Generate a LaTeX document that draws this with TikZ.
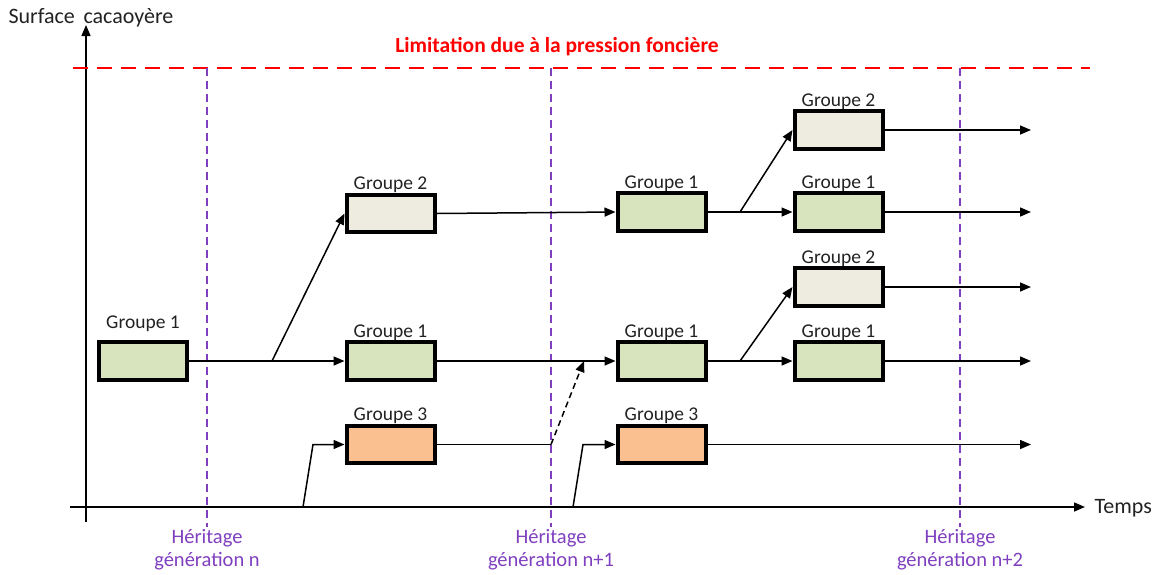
\documentclass[tikz,border=0pt]{standalone}
\usepackage{fontspec}
\setmainfont{Carlito}
\usetikzlibrary{arrows.meta}
\definecolor{gfill}{HTML}{D7E4BD}
\definecolor{bfill}{HTML}{EEECE1}
\definecolor{ofill}{HTML}{FAC090}
\definecolor{redl}{HTML}{FF0000}
\definecolor{purp}{HTML}{7F3FBF}
\definecolor{txt}{HTML}{222222}
\begin{document}
\begin{tikzpicture}[x=1pt,y=-1pt,
  font=\fontsize{19.5}{22}\selectfont,
  box/.style={draw=black,line width=4pt,minimum width=88pt,minimum height=37.5pt,inner sep=0pt},
  lbl/.style={font=\fontsize{19.5}{22}\selectfont,text=txt,inner sep=1pt,label distance=-1.5pt},
  conn/.style={line width=1.5pt},
  arr/.style={conn,-{Triangle[length=11pt,width=9pt]}},
  heri/.style={purp,line width=1.5pt,dash pattern=on 8pt off 5pt},
  hlab/.style={text=purp,align=center,font=\fontsize{20.5}{23}\selectfont},
  axl/.style={text=txt,font=\fontsize{22}{24}\selectfont}
]
\useasboundingbox (0,0) rectangle (1158,574);
% axes
\coordinate (ys) at (86,522);
\coordinate (ye) at (86,25);
\coordinate (xs) at (70,507);
\coordinate (xe) at (1085,507);
\draw[arr] (ys) -- (ye);
\draw[arr] (xs) -- (xe);
\node[anchor=west,axl] (tl) at (1091,508) {Temps};
\node[anchor=west,axl] (sl) at (5,18) {Surface\, cacaoyère};
% red limit
\coordinate (rs) at (73,68);
\coordinate (re) at (1090,68);
\draw[redl,line width=2.5pt,dash pattern=on 15pt off 9pt] (rs) -- (re);
\node[text=redl,font=\bfseries\fontsize{21.5}{24}\selectfont] (rl) at (557,47) {Limitation due à la pression foncière};
% heritage lines
\foreach \x/\n/\t in {207/h1/n,551/h2/n+1,960/h3/n+2}{
  \coordinate (\n t) at (\x,68);
  \coordinate (\n b) at (\x,527);
  \draw[heri] (\n t) -- (\n b);
  \node[hlab] (\n l) at (\x,550) {Héritage\\génération \t};
}
% boxes
\node[box,fill=gfill,label={[lbl,label distance=7pt]above:Groupe 1}] (b1) at (143,361) {};
\node[box,fill=bfill,label={[lbl]above:Groupe 2}] (c2a) at (390.5,213.5) {};
\node[box,fill=gfill,label={[lbl]above:Groupe 1}] (c2b) at (390.5,361) {};
\node[box,fill=ofill,label={[lbl]above:Groupe 3}] (c2c) at (390.5,444.5) {};
\node[box,fill=gfill,label={[lbl]above:Groupe 1}] (c3a) at (661.5,212) {};
\node[box,fill=gfill,label={[lbl]above:Groupe 1}] (c3b) at (661.5,361) {};
\node[box,fill=ofill,label={[lbl]above:Groupe 3}] (c3c) at (661.5,444.5) {};
\node[box,fill=bfill,label={[lbl]above:Groupe 2}] (c4a) at (838.5,130) {};
\node[box,fill=gfill,label={[lbl]above:Groupe 1}] (c4b) at (838.5,212) {};
\node[box,fill=bfill,label={[lbl]above:Groupe 2}] (c4c) at (838.5,287) {};
\node[box,fill=gfill,label={[lbl]above:Groupe 1}] (c4d) at (838.5,361) {};
% connectors
\coordinate (s1) at (272,361);
\draw[conn] (b1.east) -- (s1);
\draw[arr] (s1) -- (c2b.west);
\draw[arr] (s1) -- (c2a.west);
\coordinate (a1) at (303,507);
\coordinate (k1) at (313,444.5);
\draw[arr] (a1) -- (k1) -- (c2c.west);
\draw[arr] (c2a.east) -- (c3a.west);
\draw[arr] (c2b.east) -- (c3b.west);
\coordinate (d0) at (551,444.5);
\coordinate (d1) at (584,361);
\draw[conn] (c2c.east) -- (d0);
\draw[arr,dash pattern=on 6pt off 4pt] (d0) -- (d1);
\coordinate (a2) at (573,507);
\coordinate (k2) at (583,444.5);
\draw[arr] (a2) -- (k2) -- (c3c.west);
\coordinate (s2) at (740,212);
\draw[conn] (c3a.east) -- (s2);
\draw[arr] (s2) -- (c4b.west);
\draw[arr] (s2) -- (c4a.west);
\coordinate (s3) at (740,361);
\draw[conn] (c3b.east) -- (s3);
\draw[arr] (s3) -- (c4d.west);
\draw[arr] (s3) -- (c4c.west);
\coordinate (e1) at (1031,130);
\coordinate (e2) at (1031,212);
\coordinate (e3) at (1031,287);
\coordinate (e4) at (1031,361);
\coordinate (e5) at (1031,444.5);
\draw[arr] (c4a.east) -- (e1);
\draw[arr] (c4b.east) -- (e2);
\draw[arr] (c4c.east) -- (e3);
\draw[arr] (c4d.east) -- (e4);
\draw[arr] (c3c.east) -- (e5);
\end{tikzpicture}
\end{document}
